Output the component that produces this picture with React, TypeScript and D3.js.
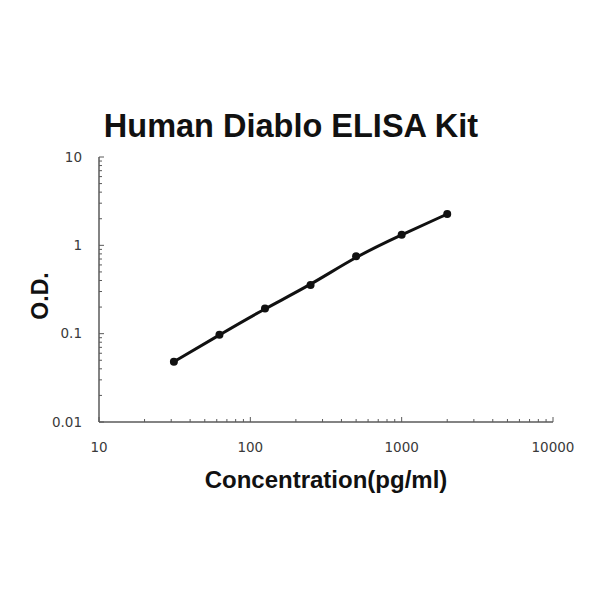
import { useEffect, useRef } from "react"
import * as d3 from "d3"

const concentrations = [31.25, 62.5, 125, 250, 500, 1000, 2000]
const odValues = [0.048, 0.097, 0.193, 0.355, 0.75, 1.32, 2.26]
const xTickLabels = [10, 100, 1000, 10000]
const yTickLabels = [0.01, 0.1, 1, 10]

const MARGIN = { top: 157, right: 47, bottom: 178, left: 99 }
const WIDTH = 600
const HEIGHT = 600

export default function App() {
  const svgRef = useRef<SVGSVGElement>(null)

  useEffect(() => {
    if (!svgRef.current) return
    const svg = d3.select(svgRef.current)
    svg.selectAll("*").remove()

    const w = WIDTH - MARGIN.left - MARGIN.right
    const h = HEIGHT - MARGIN.top - MARGIN.bottom

    svg.append("rect").attr("width", WIDTH).attr("height", HEIGHT).attr("fill", "#fff")

    const g = svg.append("g").attr("transform", `translate(${MARGIN.left},${MARGIN.top})`)

    const x = d3.scaleLog().domain([10, 10000]).range([0, w])
    const y = d3.scaleLog().domain([0.01, 10]).range([h, 0])

    const axisColor = "#5a5a5a"

    // x axis: minor + major ticks pointing up into the plot
    const xAxis = g.append("g").attr("transform", `translate(0,${h})`)
    xAxis.append("line").attr("x1", 0).attr("x2", w).attr("stroke", axisColor).attr("stroke-width", 1.5)
    xAxis.selectAll("line.tick")
      .data(x.ticks())
      .join("line")
      .attr("class", "tick")
      .attr("x1", (d) => x(d))
      .attr("x2", (d) => x(d))
      .attr("y1", 0)
      .attr("y2", (d) => (xTickLabels.includes(d) ? -5 : -3))
      .attr("stroke", axisColor)
      .attr("stroke-width", 1)
    xAxis.selectAll("text")
      .data(xTickLabels)
      .join("text")
      .attr("x", (d) => x(d))
      .attr("y", 30)
      .attr("text-anchor", "middle")
      .attr("font-family", "DejaVu Sans, sans-serif")
      .attr("font-size", "13.5px")
      .attr("fill", "#3a3a3a")
      .text((d) => String(d))

    // y axis
    const yAxis = g.append("g")
    yAxis.append("line").attr("y1", 0).attr("y2", h).attr("stroke", axisColor).attr("stroke-width", 1.5)
    yAxis.selectAll("line.tick")
      .data(y.ticks())
      .join("line")
      .attr("class", "tick")
      .attr("x1", 0)
      .attr("x2", (d) => (yTickLabels.some((t) => Math.abs(t - d) < 1e-9) ? 5 : 3))
      .attr("y1", (d) => y(d))
      .attr("y2", (d) => y(d))
      .attr("stroke", axisColor)
      .attr("stroke-width", 1)
    yAxis.selectAll("text")
      .data(yTickLabels)
      .join("text")
      .attr("x", -17)
      .attr("y", (d) => y(d))
      .attr("dy", "0.35em")
      .attr("text-anchor", "end")
      .attr("font-family", "DejaVu Sans, sans-serif")
      .attr("font-size", "13.5px")
      .attr("fill", "#3a3a3a")
      .text((d) => String(d))

    // smoothed standard curve
    const pts = concentrations.map((c, i) => [c, odValues[i]] as [number, number])
    const line = d3
      .line<[number, number]>()
      .x((d) => x(d[0]))
      .y((d) => y(d[1]))
      .curve(d3.curveBasis)

    g.append("path")
      .datum(pts)
      .attr("fill", "none")
      .attr("stroke", "#111")
      .attr("stroke-width", 3)
      .attr("stroke-linecap", "round")
      .attr("d", line)

    g.selectAll("circle")
      .data(pts)
      .join("circle")
      .attr("cx", (d) => x(d[0]))
      .attr("cy", (d) => y(d[1]))
      .attr("r", 4)
      .attr("fill", "#111")

    // titles
    svg.append("text")
      .attr("x", 291)
      .attr("y", 137)
      .attr("text-anchor", "middle")
      .attr("font-family", "Liberation Sans, Arial, sans-serif")
      .attr("font-weight", "bold")
      .attr("font-size", "32.5px")
      .attr("fill", "#111")
      .text("Human Diablo ELISA Kit")

    svg.append("text")
      .attr("x", 326)
      .attr("y", 488)
      .attr("text-anchor", "middle")
      .attr("font-family", "Liberation Sans, Arial, sans-serif")
      .attr("font-weight", "bold")
      .attr("font-size", "24px")
      .attr("fill", "#111")
      .text("Concentration(pg/ml)")

    svg.append("text")
      .attr("transform", "translate(48,296) rotate(-90)")
      .attr("text-anchor", "middle")
      .attr("font-family", "Liberation Sans, Arial, sans-serif")
      .attr("font-weight", "bold")
      .attr("font-size", "23px")
      .attr("fill", "#111")
      .text("O.D.")
  }, [])

  return (
    <svg
      ref={svgRef}
      width={WIDTH}
      height={HEIGHT}
      style={{ position: "absolute", left: 0, top: 0 }}
    />
  )
}
